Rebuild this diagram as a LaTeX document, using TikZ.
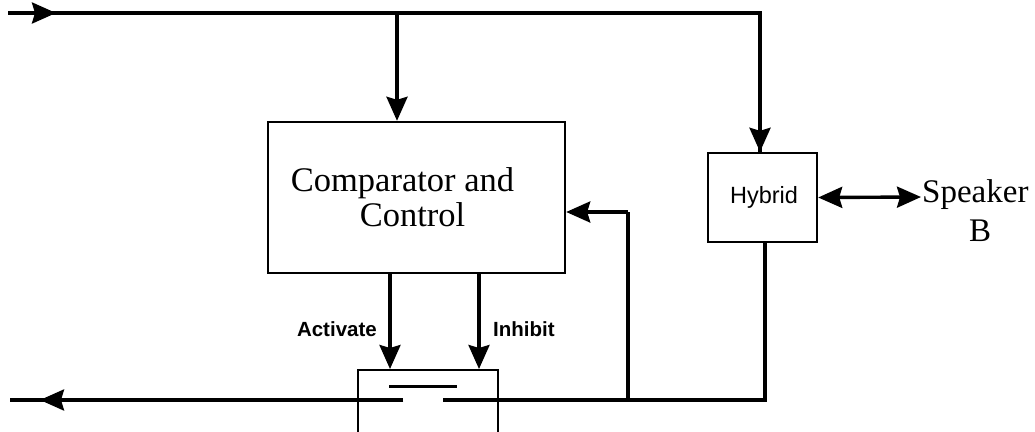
\documentclass[tikz,border=0pt]{standalone}
\usepackage{fontspec}
\setmainfont{Liberation Serif}
\newfontfamily\lblsans{Liberation Sans}
\usetikzlibrary{arrows.meta}
\begin{document}
\begin{tikzpicture}[x=1pt,y=-1pt,
  wire/.style={line width=3.4pt},
  arr/.style={wire,-{Stealth[length=24pt,width=21pt,inset=3pt]}},
  dbl/.style={wire,{Stealth[length=24pt,width=21pt,inset=3pt]}-{Stealth[length=24pt,width=21pt,inset=3pt]}},
  blk/.style={draw,line width=2.4pt,inner sep=0pt},
  lbl/.style={font=\lblsans\bfseries\fontsize{20.5}{23}\selectfont,inner sep=0pt}]
\useasboundingbox (0,0) rectangle (1035,431);
% blocks
\node[blk,minimum width=297pt,minimum height=151pt,align=center,
  font=\fontsize{34.5}{35}\selectfont] (comp) at (416.5,197.5)
  {\hspace*{-28pt}Comparator and\\\hspace*{-8pt}Control};
\node[blk,minimum width=109pt,minimum height=89pt] (hyb) at (762.5,197.5) {};
\node[font=\lblsans\fontsize{23.5}{26}\selectfont,inner sep=0pt] (hybl) at (764,197) {Hybrid};
\node[blk,minimum width=140pt,minimum height=70pt,anchor=north] (sw) at (428,369) {};
% speaker
\node[font=\fontsize{33}{36}\selectfont,inner sep=0pt,anchor=west] (spk) at (922,195) {Speaker};
\node[font=\fontsize{33}{36}\selectfont,inner sep=0pt] (spkB) at (980,231) {B};
% coordinates
\coordinate (inL) at (8,13);
\coordinate (inTip) at (56,13);
\coordinate (topC) at (397,13);
\coordinate (topR) at (760,13);
\coordinate (botR) at (765,400);
\coordinate (swR) at (443,400);
\coordinate (swL) at (403,400);
\coordinate (outL) at (10,400);
\coordinate (outTip) at (40,400);
\coordinate (barL) at (389,386);
\coordinate (barR) at (457,386);
\coordinate (fbB) at (628,400);
\coordinate (fbT) at (628,212);
\coordinate (actX) at (390,0);
\coordinate (inhX) at (479,0);
\coordinate (spkW) at (921,197);
% top input line
\draw[wire] (inL) -- (topR) -- (topR |- hyb.north);
\draw[arr] (inL) -- (inTip);
\draw[arr] (topR) -- (topR |- hyb.north);
\draw[arr] (topC) -- (topC |- comp.north);
% hybrid to speaker
\draw[dbl] (hyb.east) -- (spkW);
% bottom line
\draw[wire] (hyb.south -| botR) -- (botR) -- (swR);
\draw[wire] (swL) -- (outL);
\draw[arr] (swL) -- (outTip);
\draw[line width=3pt] (barL) -- (barR);
% feedback
\draw[wire] (fbB) -- (fbT);
\draw[arr] (fbT) -- (comp.east |- fbT);
% activate / inhibit
\draw[arr] (comp.south -| actX) -- (sw.north -| actX);
\draw[arr] (comp.south -| inhX) -- (sw.north -| inhX);
\node[lbl,anchor=east] (actl) at (377,329) {Activate};
\node[lbl,anchor=west] (inhl) at (493,329) {Inhibit};
\end{tikzpicture}
\end{document}
